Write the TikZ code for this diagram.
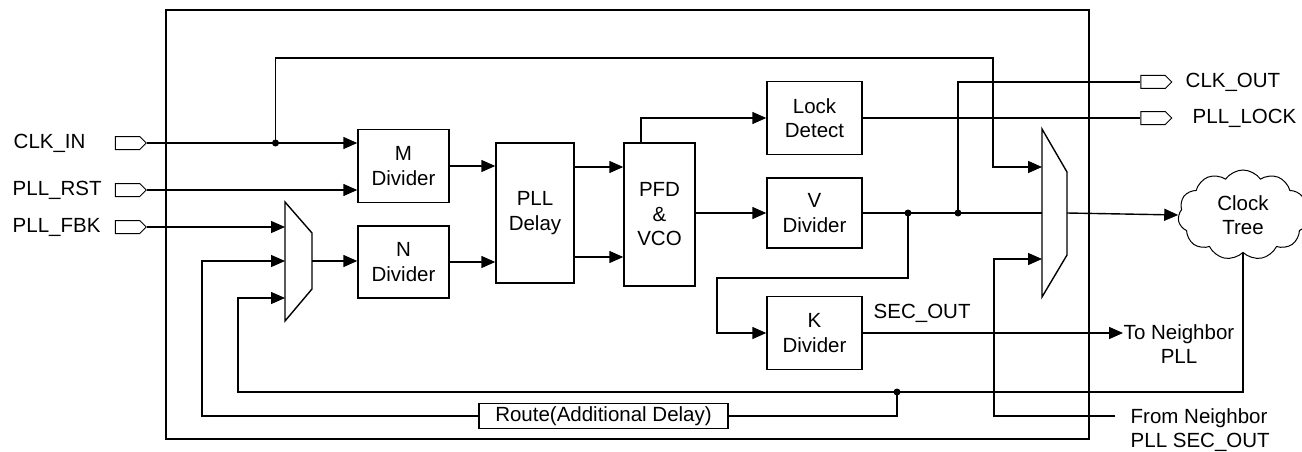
\documentclass[tikz,border=0pt]{standalone}
\usepackage{fontspec}
\setmainfont{Liberation Sans}
\usetikzlibrary{arrows.meta,shapes.symbols}

\begin{document}
\begin{tikzpicture}[x=1pt, y=-1pt, line width=1.4pt,
	font=\fontsize{20.5}{24.5}\selectfont,
	box/.style={draw, inner sep=0pt, align=center},
	port/.style={draw, signal, signal to=east, line width=1pt, minimum width=31pt, minimum height=13pt, inner sep=0pt},
	lbl/.style={inner sep=0pt, align=center},
	arr/.style={-{Triangle[length=14pt, width=12pt]}},
	dot/.style={circle, fill, inner sep=0pt, minimum size=7pt}]
	\useasboundingbox (0,0) rectangle (1302,452);

	% outer frame
	\draw (166,10) rectangle (1089,439);

	% ports and their names
	\node[port] (clkin) at (127.5,143) {};
	\node[port] (rst) at (127.5,190) {};
	\node[port] (fbk) at (127.5,227) {};
	\node[port] (clkout) at (1153,82) {};
	\node[port] (plllock) at (1153,118) {};
	\node[lbl, anchor=west] (clkinlbl) at (13,143) {CLK\_IN};
	\node[lbl, anchor=west] (rstlbl) at (12,190) {PLL\_RST};
	\node[lbl, anchor=west] (fbklbl) at (12,227) {PLL\_FBK};
	\node[lbl, anchor=west] (clkoutlbl) at (1185,82) {CLK\_OUT};
	\node[lbl, anchor=west] (plllocklbl) at (1192,118) {PLL\_LOCK};

	% blocks
	\node[box, minimum width=91pt, minimum height=73pt] (mdiv) at (403.5,166) {M\\Divider};
	\node[box, minimum width=91pt, minimum height=72pt] (ndiv) at (403.5,262) {N\\Divider};
	\node[box, minimum width=78pt, minimum height=140pt] (dly) at (535,213) {PLL\\Delay};
	\node[box, minimum width=71pt, minimum height=143pt] (pfd) at (659.5,214.5) {PFD\\\&\\VCO};
	\node[box, minimum width=95pt, minimum height=73pt] (lock) at (814.5,118) {Lock\\Detect};
	\node[box, minimum width=95pt, minimum height=70pt] (vdiv) at (814.5,213) {V\\Divider};
	\node[box, minimum width=95pt, minimum height=73pt] (kdiv) at (814.5,333) {K\\Divider};
	\node[box, minimum width=249pt, minimum height=25pt] (route) at (603.5,416) {Route(Additional Delay)};
	\node[draw, cloud, cloud puffs=11, cloud puff arc=110, aspect=1.4, line width=1pt, inner sep=0pt,
		minimum width=130pt, minimum height=90pt, align=center] (tree) at (1243,215) {Clock\\Tree};

	% multiplexers
	\draw (285,202) -- (312,233) -- (312,289) -- (285,321) -- cycle;
	\draw (1042,129) -- (1067,172) -- (1067,255) -- (1042,297) -- cycle;
	\coordinate (muxa) at (285,261);
	\coordinate (muxaout) at (312,261);
	\coordinate (muxb) at (1042,213);
	\coordinate (muxbout) at (1067,213);

	% junctions
	\coordinate (j1) at (275.5,143);
	\coordinate (j2) at (908,213);
	\coordinate (j3) at (958,213);
	\coordinate (j4) at (897,392);
	\coordinate (nbin) at (1115,416);

	% texts
	\node[lbl, anchor=west] (seclbl) at (873,313) {SEC\_OUT};
	\node[lbl] (tonb) at (1179,344) {To Neighbor\\PLL};
	\node[lbl, align=left, anchor=west] (fromnb) at (1130,430) {From Neighbor\\PLL SEC\_OUT};

	% connections
	\draw[arr] (clkin.east) -- (clkin.east -| mdiv.west);
	\draw[arr] (rst.east) -- (rst.east -| mdiv.west);
	\draw[arr] (fbk.east) -- (fbk.east -| muxa);
	\draw[arr] (j1) |- (993,58) |- (muxb |- 0,167);
	\draw[arr] (muxaout) -- (muxaout -| ndiv.west);
	\draw[arr] (mdiv.east) -- (mdiv.east -| dly.west);
	\draw[arr] (ndiv.east) -- (ndiv.east -| dly.west);
	\draw[arr] (dly.east |- 0,167) -- (pfd.west |- 0,167);
	\draw[arr] (dly.east |- 0,257) -- (pfd.west |- 0,257);
	\draw[arr] ([xshift=-18.5pt]pfd.north) |- (lock.west);
	\draw[arr] (pfd.east |- vdiv.west) -- (vdiv.west);
	\draw (vdiv.east) -- (muxb);
	\draw[arr] (j2) |- (717,278) |- (kdiv.west);
	\draw (j3) |- (clkout.west);
	\draw (lock.east) -- (plllock.west);
	\draw[arr] (muxbout) -- (tree.west);
	\draw[arr] (tree.south) |- (238,392) |- (muxa |- 0,298);
	\draw (j4) |- (route.east);
	\draw[arr] (route.west) -| (202,261) -- (muxa);
	\draw[arr] (kdiv.east |- 0,333) -- (tonb.west |- 0,333);
	\draw[arr] (nbin) -| (994,259) -- (muxb |- 0,259);

	\node[dot] at (j1) {};
	\node[dot] at (j2) {};
	\node[dot] at (j3) {};
	\node[dot] at (j4) {};

\end{tikzpicture}
\end{document}
